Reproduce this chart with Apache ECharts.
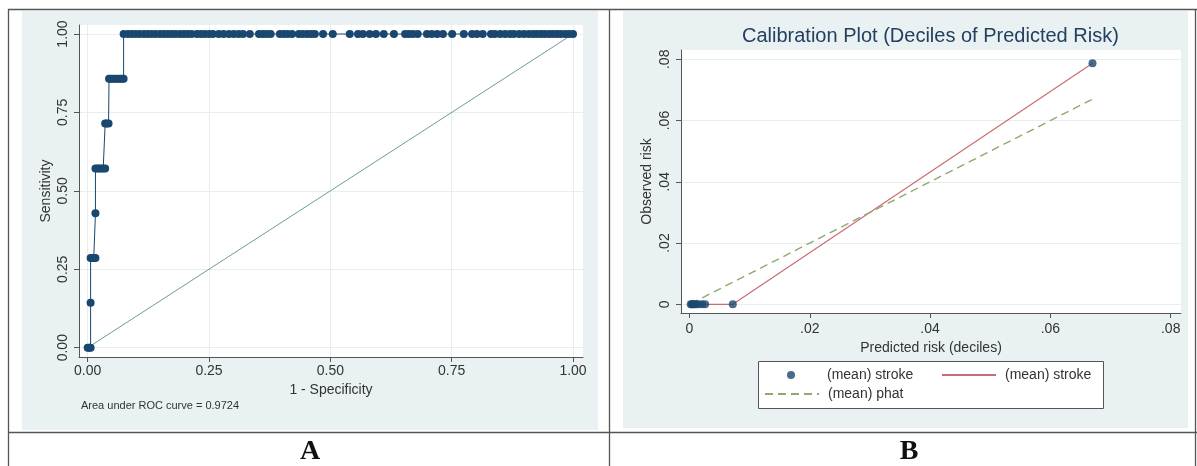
<!DOCTYPE html>
<html><head><meta charset="utf-8">
<script src="https://cdn.jsdelivr.net/npm/echarts@6/dist/echarts.min.js"></script>
<style>html,body{margin:0;padding:0;background:#fff}#c{width:1197px;height:466px}</style>
</head><body><div id="c"></div>
<script>
// ---------- Panel A: ROC curve ----------
const sensitivityLevels = [0, 0.1429, 0.2857, 0.4286, 0.5714, 0.7143, 0.8571, 1];
const fprAtLevel = [
  [0, 0.003, 0.006],
  [0.006],
  [0.006, 0.009, 0.0125, 0.016],
  [0.016],
  [0.016, 0.020, 0.024, 0.028, 0.032, 0.036],
  [0.036, 0.039, 0.043],
  [0.044, 0.047, 0.051, 0.055, 0.059, 0.063, 0.067, 0.071, 0.074],
  [0.074, 0.083, 0.091, 0.099, 0.107, 0.116, 0.124, 0.132, 0.140, 0.149,
   0.157, 0.165, 0.173, 0.181, 0.190, 0.198, 0.206, 0.214, 0.225, 0.233,
   0.241, 0.250, 0.258, 0.270, 0.280, 0.291, 0.301, 0.311, 0.320, 0.334,
   0.353, 0.361, 0.369, 0.377, 0.396, 0.404, 0.412, 0.421, 0.435, 0.443,
   0.452, 0.460, 0.468, 0.485, 0.505, 0.540, 0.557, 0.567, 0.581, 0.594,
   0.610, 0.631, 0.654, 0.662, 0.670, 0.680, 0.699, 0.709, 0.720, 0.732,
   0.751, 0.775, 0.792, 0.802, 0.814, 0.831, 0.839, 0.850, 0.860, 0.870,
   0.878, 0.889, 0.899, 0.909, 0.918, 0.926, 0.934, 0.942, 0.951, 0.959,
   0.967, 0.975, 0.984, 0.992, 1.0]
];
const refLineX = [0, 1];
const refLineY = [0, 1];
const rocTicks = [0, 0.25, 0.5, 0.75, 1];
const rocTickLabels = ['0.00', '0.25', '0.50', '0.75', '1.00'];
const aucText = 'Area under ROC curve = 0.9724';

// ---------- Panel B: Calibration ----------
const predictedRisk = [0.0002, 0.0004, 0.0006, 0.0008, 0.0011, 0.0015, 0.0021, 0.0026, 0.0072, 0.0670];
const observedRisk  = [0, 0, 0, 0, 0, 0, 0, 0, 0, 0.0787];
const meanPhat      = [0.0002, 0.0004, 0.0006, 0.0008, 0.0011, 0.0015, 0.0021, 0.0026, 0.0072, 0.0670];
const calTicks = [0, 0.02, 0.04, 0.06, 0.08];
const calTickLabels = ['0', '.02', '.04', '.06', '.08'];
const legendLabels = { pts: '(mean) stroke', obsLine: '(mean) stroke', phat: '(mean) phat' };

// ---------- build ----------
const rocPoints = [];
sensitivityLevels.forEach((s, i) => fprAtLevel[i].forEach(f => rocPoints.push([f, s])));
const refPoints = refLineX.map((x, i) => [x, refLineY[i]]);
const calPoints = predictedRisk.map((x, i) => [x, observedRisk[i]]);
const phatPoints = predictedRisk.map((x, i) => [x, meanPhat[i]]);

const FONT = '"Liberation Sans", Arial, sans-serif';
const TXT = '#333333';
const AX = '#555555';
const GRIDC = '#e6eef0';
const NAVY = '#1a476f';

function fmt(ticks, labels) {
  return function (v) {
    const i = ticks.findIndex(t => Math.abs(t - v) < 1e-9);
    return i >= 0 ? labels[i] : '';
  };
}
function axis(o) {
  return {
    gridIndex: o.grid, type: 'value', min: o.min, max: o.max,
    name: o.name, nameLocation: 'middle', nameGap: o.nameGap,
    nameTextStyle: { fontSize: 14, color: TXT, fontFamily: FONT },
    axisLine: { show: true, onZero: false, lineStyle: { color: AX, width: 1 } },
    axisTick: { show: true, customValues: o.ticks, length: 5, lineStyle: { color: AX, width: 1 } },
    axisLabel: { customValues: o.ticks, formatter: fmt(o.ticks, o.labels), margin: o.margin,
      rotate: o.rotate || 0, fontSize: 14, color: TXT, fontFamily: FONT },
    splitLine: { show: o.split, lineStyle: { color: GRIDC, width: 1 } }
  };
}

const chart = echarts.init(document.getElementById('c'), null, { renderer: 'canvas' });
const line = (x1, y1, x2, y2) => ({ type: 'line', z: 20, silent: true,
  shape: { x1, y1, x2, y2 }, style: { stroke: '#555', lineWidth: 1.3 } });

chart.setOption({
  animation: false,
  backgroundColor: '#ffffff',
  title: [{
    text: 'Calibration Plot (Deciles of Predicted Risk)', left: 742, top: 26, padding: 0,
    textStyle: { fontSize: 20, fontWeight: 'normal', color: '#24405f', fontFamily: FONT }
  }],
  grid: [
    { left: 79, top: 25, width: 504, height: 332, show: true, backgroundColor: '#ffffff', borderWidth: 0, outerBoundsMode: 'none' },
    { left: 681, top: 50, width: 500, height: 263, show: true, backgroundColor: '#ffffff', borderWidth: 0, outerBoundsMode: 'none' }
  ],
  xAxis: [
    axis({ grid: 0, min: -0.0179, max: 1.0206, ticks: rocTicks, labels: rocTickLabels, margin: 7,
      name: '1 - Specificity', nameGap: 22, split: true }),
    axis({ grid: 1, min: -0.00141, max: 0.08171, ticks: calTicks, labels: calTickLabels, margin: 9,
      name: 'Predicted risk (deciles)', nameGap: 24, split: false })
  ],
  yAxis: [
    axis({ grid: 0, min: -0.0297, max: 1.0287, ticks: rocTicks, labels: rocTickLabels, margin: 9, rotate: 90,
      name: 'Sensitivity', nameGap: 26, split: true }),
    axis({ grid: 1, min: -0.00284, max: 0.08304, ticks: calTicks, labels: calTickLabels, margin: 9, rotate: 90,
      name: 'Observed risk', nameGap: 27, split: true })
  ],
  legend: [
    { data: ['pts'], left: 787, top: 368 },
    { data: ['obsLine'], left: 941, top: 368, itemStyle: { opacity: 0 } },
    { data: ['phat'], left: 764, top: 387, itemStyle: { opacity: 0 } }
  ].map(l => Object.assign({
    padding: 0, itemWidth: 54, itemHeight: 8, selectedMode: false, z: 10,
    formatter: n => legendLabels[n],
    textStyle: { fontSize: 14, color: TXT, fontFamily: FONT, padding: [0, 0, 0, 4] }
  }, l)),
  series: [
    { type: 'line', name: 'ref', xAxisIndex: 0, yAxisIndex: 0, data: refPoints, symbol: 'none',
      lineStyle: { color: '#6e9d93', width: 1 }, silent: true, z: 2 },
    { type: 'line', name: 'roc', xAxisIndex: 0, yAxisIndex: 0, data: rocPoints, symbol: 'circle',
      symbolSize: 8, showSymbol: true, itemStyle: { color: NAVY }, lineStyle: { color: NAVY, width: 1 }, silent: true, z: 3 },
    { type: 'line', name: 'obsLine', xAxisIndex: 1, yAxisIndex: 1, data: calPoints, symbol: 'none',
      lineStyle: { color: '#c96d73', width: 1.2 }, itemStyle: { color: '#c96d73' }, silent: true, z: 2 },
    { type: 'line', name: 'phat', xAxisIndex: 1, yAxisIndex: 1, data: phatPoints, symbol: 'none',
      lineStyle: { color: '#8eaa6c', width: 1.4, type: [8, 5] }, itemStyle: { color: '#8eaa6c' }, silent: true, z: 2 },
    { type: 'scatter', name: 'pts', xAxisIndex: 1, yAxisIndex: 1, data: calPoints, symbol: 'circle',
      symbolSize: 8, itemStyle: { color: NAVY }, silent: true, z: 3 }
  ],
  graphic: [
    { type: 'rect', z: -10, silent: true, shape: { x: 22, y: 11, width: 576, height: 419 }, style: { fill: '#e9f1f3' } },
    { type: 'rect', z: -10, silent: true, shape: { x: 623, y: 11, width: 565, height: 417 }, style: { fill: '#e9f1f3' } },
    { type: 'rect', z: 5, silent: true, shape: { x: 758.5, y: 361.5, width: 345, height: 47 }, style: { fill: '#ffffff', stroke: '#555', lineWidth: 1 } },
    line(8, 9.5, 1197, 9.5),
    line(8, 432.5, 1197, 432.5),
    line(8.5, 9, 8.5, 466),
    line(609.5, 9, 609.5, 466),
    line(1195.5, 9, 1195.5, 466),
    { type: 'text', z: 20, silent: true, x: 81, y: 406,
      style: { text: aucText, font: '11px "Liberation Sans", Arial, sans-serif', fill: TXT, align: 'left', verticalAlign: 'middle' } },
    { type: 'text', z: 20, silent: true, x: 310, y: 452,
      style: { text: 'A', font: 'bold 28px "Liberation Serif", "Times New Roman", serif', fill: '#111', align: 'center', verticalAlign: 'middle' } },
    { type: 'text', z: 20, silent: true, x: 909, y: 452,
      style: { text: 'B', font: 'bold 28px "Liberation Serif", "Times New Roman", serif', fill: '#111', align: 'center', verticalAlign: 'middle' } }
  ]
});
</script></body></html>
